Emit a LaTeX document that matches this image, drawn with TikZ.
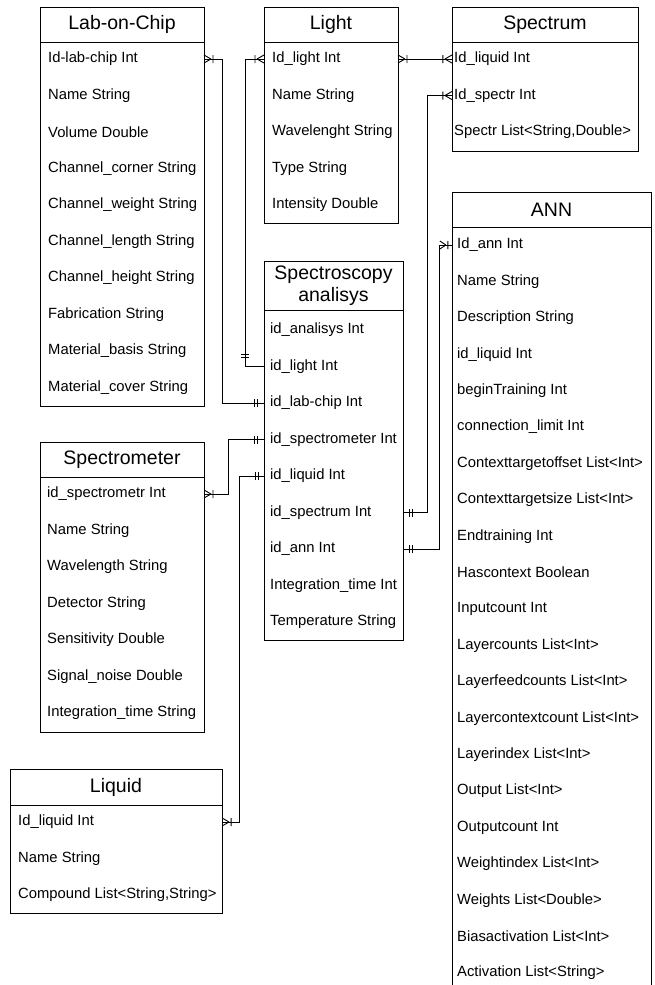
\documentclass[tikz,border=0pt]{standalone}
\usepackage{fontspec}
\setmainfont{Liberation Sans}
\usetikzlibrary{decorations.markings}
\tikzset{
  tbox/.style={draw=black, line width=0.9pt, inner sep=0pt, outer sep=0pt},
  ttl/.style={tbox, font=\fontsize{19.5}{22}\selectfont, align=center, anchor=north},
  rowtxt/.style={anchor=west, inner sep=0pt, font=\fontsize{14.8}{17}\selectfont},
  conn/.style={draw=black, line width=0.9pt},
  startMany/.style={postaction={decorate,decoration={markings,mark=at position 0pt with {\draw[conn] (7pt,0pt)--(0pt,4pt) (7pt,0pt)--(0pt,-4pt) (9pt,-4pt)--(9pt,4pt);}}}},
  endMany/.style={postaction={decorate,decoration={markings,mark=at position -0.1pt with {\draw[conn] (-7pt,0pt)--(0pt,4pt) (-7pt,0pt)--(0pt,-4pt) (-9pt,-4pt)--(-9pt,4pt);}}}},
  endManyRev/.style={postaction={decorate,decoration={markings,mark=at position -0.1pt with {\draw[conn] (-6pt,0pt)--(-12pt,4pt) (-6pt,0pt)--(-12pt,-4pt) (-4pt,-4pt)--(-4pt,4pt);}}}},
  startTwo/.style={postaction={decorate,decoration={markings,mark=at position 0pt with {\draw[conn] (6pt,-4pt)--(6pt,4pt) (9pt,-4pt)--(9pt,4pt);}}}},
  endTwo/.style={postaction={decorate,decoration={markings,mark=at position -0.1pt with {\draw[conn] (-6pt,-4pt)--(-6pt,4pt) (-9pt,-4pt)--(-9pt,4pt);}}}},
  barAt/.style={postaction={decorate,decoration={markings,mark=at position #1 with {\draw[conn] (0pt,-4pt)--(0pt,4pt);}}}},
}
\begin{document}
\begin{tikzpicture}[x=1pt,y=-1pt]
\useasboundingbox (0,0) rectangle (654,985);
\clip (0,0) rectangle (654,985);

% Lab-on-Chip
\node[tbox, minimum width=164pt, minimum height=399pt, anchor=north west] (lab) at (40,7) {};
\node[ttl, minimum width=164pt, minimum height=35pt] (lab-t) at (lab.north) {Lab-on-Chip};
\foreach \t [count=\i] in {Id-lab-chip Int, Name String, Volume Double, Channel\_corner String, Channel\_weight String, Channel\_length String, Channel\_height String, Fabrication String, Material\_basis String, Material\_cover String}
  \node[rowtxt] (lab-\i) at (48,{59+(\i-1)*36.5}) {\t};

% Light
\node[tbox, minimum width=134pt, minimum height=216pt, anchor=north west] (light) at (264,7) {};
\node[ttl, minimum width=134pt, minimum height=35pt] (light-t) at (light.north) {Light};
\foreach \t [count=\i] in {Id\_light Int, Name String, Wavelenght String, Type String, Intensity Double}
  \node[rowtxt] (light-\i) at (272,{59+(\i-1)*36.5}) {\t};

% Spectrum
\node[tbox, minimum width=186pt, minimum height=144pt, anchor=north west] (spectrum) at (452,7) {};
\node[ttl, minimum width=186pt, minimum height=35pt] (spectrum-t) at (spectrum.north) {Spectrum};
\foreach \t [count=\i] in {Id\_liquid Int, Id\_spectr Int, {Spectr List<String,Double>}}
  \node[rowtxt] (spectrum-\i) at (454,{59+(\i-1)*36.5}) {\t};

% ANN
\node[tbox, minimum width=199pt, minimum height=803pt, anchor=north west] (ann) at (452,192) {};
\node[ttl, minimum width=199pt, minimum height=35pt] (ann-t) at (ann.north) {ANN};
\foreach \t [count=\i] in {Id\_ann Int, Name String, Description String, id\_liquid Int, beginTraining Int, connection\_limit Int, Contexttargetoffset List<Int>, Contexttargetsize List<Int>, Endtraining Int, Hascontext Boolean, Inputcount Int, Layercounts List<Int>, Layerfeedcounts List<Int>, Layercontextcount List<Int>, Layerindex List<Int>, Output List<Int>, Outputcount Int, Weightindex List<Int>, Weights List<Double>, Biasactivation List<Int>, Activation List<String>}
  \node[rowtxt] (ann-\i) at (457,{245+(\i-1)*36.4}) {\t};

% Spectroscopy analisys
\node[tbox, minimum width=139pt, minimum height=379pt, anchor=north west] (spectro) at (264,261) {};
\node[ttl, minimum width=139pt, minimum height=49pt] (spectro-t) at (spectro.north) {Spectroscopy\\analisys};
\foreach \t [count=\i] in {id\_analisys Int, id\_light Int, id\_lab-chip Int, id\_spectrometer Int, id\_liquid Int, id\_spectrum Int, id\_ann Int, Integration\_time Int, Temperature String}
  \node[rowtxt] (spectro-\i) at (270,{330+(\i-1)*36.5}) {\t};

% Spectrometer
\node[tbox, minimum width=164pt, minimum height=290pt, anchor=north west] (spm) at (40,442) {};
\node[ttl, minimum width=164pt, minimum height=35pt] (spm-t) at (spm.north) {Spectrometer};
\foreach \t [count=\i] in {id\_spectrometr Int, Name String, Wavelength String, Detector String, Sensitivity Double, Signal\_noise Double, Integration\_time String}
  \node[rowtxt] (spm-\i) at (47,{494+(\i-1)*36.5}) {\t};

% Liquid
\node[tbox, minimum width=212pt, minimum height=144pt, anchor=north west] (liquid) at (10,769) {};
\node[ttl, minimum width=212pt, minimum height=36pt] (liquid-t) at (liquid.north) {Liquid};
\foreach \t [count=\i] in {Id\_liquid Int, Name String, {Compound List<String,String>}}
  \node[rowtxt] (liquid-\i) at (18,{822+(\i-1)*36.5}) {\t};

% Connectors
\draw[conn, startMany, endTwo] (lab.east |- lab-1) -- ++(18,0) |- (spectro.west |- spectro-3);
\draw[conn, startMany, barAt=-31pt, barAt=-28pt] (light.west |- light-1) -- ++(-19,0) |- (spectro.west |- spectro-2);
\draw[conn, startMany, endMany] (light.east |- light-1) -- (spectrum.west |- spectrum-1);
\draw[conn, startTwo, endMany] (spectro.east |- spectro-6) -- ++(24,0) |- (spectrum.west |- spectrum-2);
\draw[conn, startTwo, endManyRev] (spectro.east |- spectro-7) -- ++(36,0) |- (ann.west |- ann-1);
\draw[conn, startMany, endTwo] (spm.east |- spm-1) -- ++(24,0) |- (spectro.west |- spectro-4);
\draw[conn, startTwo, endMany] (spectro.west |- spectro-5) -- ++(-25,0) |- (liquid.east |- liquid-1);
\end{tikzpicture}
\end{document}
